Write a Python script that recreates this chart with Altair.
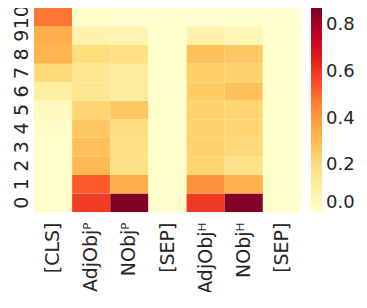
import altair as alt
import pandas as pd

tokens = ["[CLS]", "AdjObjᴾ", "NObjᴾ", "[SEP]", "AdjObjᴴ", "NObjᴴ", "[SEP]"]
layers = [0, 1, 2, 3, 4, 5, 6, 7, 8, 9, 10]

# values per token column, listed from layer 0 up to layer 10
cls_vals = [0.005, 0.005, 0.005, 0.01, 0.02, 0.04, 0.11, 0.21, 0.32, 0.34, 0.48]
adjp_vals = [0.59, 0.53, 0.31, 0.29, 0.27, 0.23, 0.15, 0.15, 0.20, 0.08, 0.01]
nobjp_vals = [0.875, 0.34, 0.18, 0.18, 0.19, 0.27, 0.12, 0.12, 0.18, 0.07, 0.005]
sep1_vals = [0.003, 0.003, 0.003, 0.003, 0.003, 0.003, 0.003, 0.003, 0.003, 0.003, 0.003]
adjh_vals = [0.60, 0.42, 0.23, 0.24, 0.24, 0.24, 0.26, 0.25, 0.29, 0.08, 0.005]
nobjh_vals = [0.87, 0.33, 0.17, 0.22, 0.23, 0.23, 0.29, 0.24, 0.27, 0.06, 0.005]
sep2_vals = [0.003, 0.003, 0.003, 0.003, 0.003, 0.003, 0.003, 0.003, 0.003, 0.003, 0.003]

columns = [cls_vals, adjp_vals, nobjp_vals, sep1_vals, adjh_vals, nobjh_vals, sep2_vals]

# YlOrRd colour stops spread over 0 .. 0.875
vmax = 0.875
ylorrd = ["#ffffcc", "#ffeda0", "#fed976", "#feb24c", "#fd8d3c",
          "#fc4e2a", "#e31a1c", "#bd0026", "#800026"]
stops = [vmax * i / 8 for i in range(9)]

rows = []
for ci, vals in enumerate(columns):
    for li, v in zip(layers, vals):
        rows.append({"col": ci, "layer": li, "value": v})
df = pd.DataFrame(rows)

label_map = "{" + ",".join(f"'{i}':'{t}'" for i, t in enumerate(tokens)) + "}"

font = "DejaVu Sans"
txt = "#262626"

chart = alt.Chart(df).mark_rect(strokeWidth=0).encode(
    x=alt.X("col:O", title=None,
            scale=alt.Scale(paddingInner=0, paddingOuter=0),
            axis=alt.Axis(labelExpr=f"{label_map}[datum.value]", labelAngle=270,
                          labelAlign="right", labelBaseline="middle",
                          ticks=False, domain=False, labelPadding=10,
                          labelFontSize=19, labelFont=font, labelColor=txt)),
    y=alt.Y("layer:O", title=None, sort="descending",
            scale=alt.Scale(paddingInner=0, paddingOuter=0),
            axis=alt.Axis(labelAngle=270, labelAlign="center",
                          ticks=False, domain=False, labelPadding=3,
                          labelFontSize=19, labelFont=font, labelColor=txt)),
    color=alt.Color("value:Q",
                    scale=alt.Scale(domain=stops, range=ylorrd),
                    legend=alt.Legend(title=None, orient="none", legendX=277, legendY=0,
                                      gradientLength=204, gradientThickness=11,
                                      gradientStrokeWidth=0,
                                      values=[0, 0.2, 0.4, 0.6, 0.8], format=".1f",
                                      labelFontSize=18, labelFont=font, labelColor=txt,
                                      labelBaseline="middle", labelOffset=4)),
).properties(
    width=267, height=204,
    autosize=alt.AutoSizeParams(type="none"),
    padding={"left": 26, "top": 0, "right": 58, "bottom": 80},
).configure_view(strokeWidth=0)

chart.save("out.html", embed_options={"renderer": "svg", "actions": False})
